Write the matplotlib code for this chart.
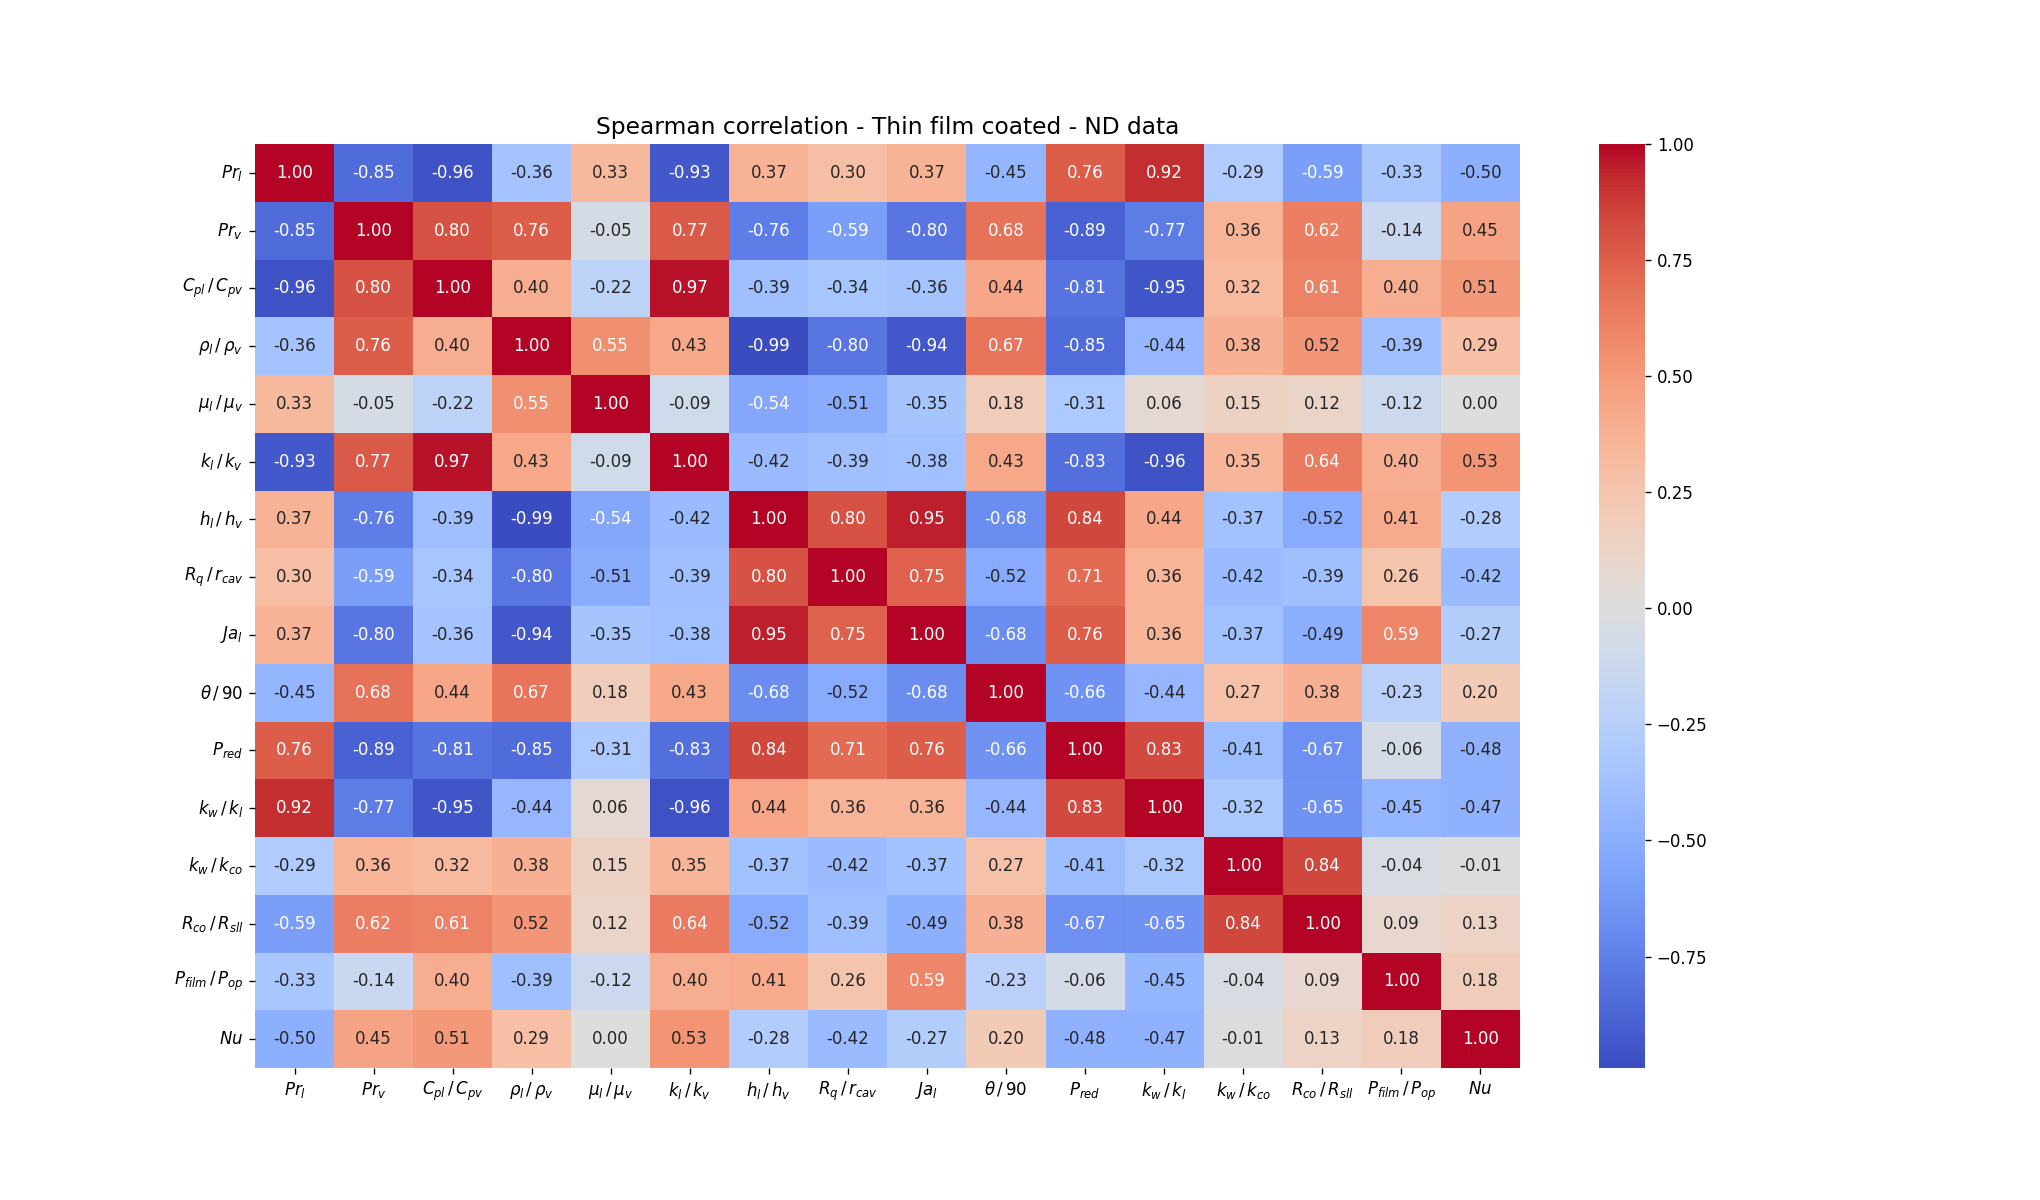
import numpy as np
import pandas as pd
import matplotlib
matplotlib.use("Agg")
import matplotlib.pyplot as plt
import seaborn as sns

# ── Labels ────────────────────────────────────────────────────────────
labels = [r"$Pr_l$", r"$Pr_v$", r"$C_{pl}\,/\,C_{pv}$", r"$\rho_l\,/\,\rho_v$",
          r"$\mu_l\,/\,\mu_v$", r"$k_l\,/\,k_v$", r"$h_l\,/\,h_v$",
          r"$R_q\,/\,r_{cav}$", r"$Ja_l$", r"$\theta\,/\,90$", r"$P_{red}$",
          r"$k_w\,/\,k_l$", r"$k_w\,/\,k_{co}$", r"$R_{co}\,/\,R_{sll}$",
          r"$P_{film}\,/\,P_{op}$", r"$Nu$"]

# ── Spearman coefficients (read row by row) ───────────────────────────
r_prl   = [1.00, -0.85, -0.96, -0.36, 0.33, -0.93, 0.37, 0.30, 0.37, -0.45, 0.76, 0.92, -0.29, -0.59, -0.33, -0.50]
r_prv   = [-0.85, 1.00, 0.80, 0.76, -0.05, 0.77, -0.76, -0.59, -0.80, 0.68, -0.89, -0.77, 0.36, 0.62, -0.14, 0.45]
r_cp    = [-0.96, 0.80, 1.00, 0.40, -0.22, 0.97, -0.39, -0.34, -0.36, 0.44, -0.81, -0.95, 0.32, 0.61, 0.40, 0.51]
r_rho   = [-0.36, 0.76, 0.40, 1.00, 0.55, 0.43, -0.99, -0.80, -0.94, 0.67, -0.85, -0.44, 0.38, 0.52, -0.39, 0.29]
r_mu    = [0.33, -0.05, -0.22, 0.55, 1.00, -0.09, -0.54, -0.51, -0.35, 0.18, -0.31, 0.06, 0.15, 0.12, -0.12, 0.00]
r_k     = [-0.93, 0.77, 0.97, 0.43, -0.09, 1.00, -0.42, -0.39, -0.38, 0.43, -0.83, -0.96, 0.35, 0.64, 0.40, 0.53]
r_h     = [0.37, -0.76, -0.39, -0.99, -0.54, -0.42, 1.00, 0.80, 0.95, -0.68, 0.84, 0.44, -0.37, -0.52, 0.41, -0.28]
r_rq    = [0.30, -0.59, -0.34, -0.80, -0.51, -0.39, 0.80, 1.00, 0.75, -0.52, 0.71, 0.36, -0.42, -0.39, 0.26, -0.42]
r_ja    = [0.37, -0.80, -0.36, -0.94, -0.35, -0.38, 0.95, 0.75, 1.00, -0.68, 0.76, 0.36, -0.37, -0.49, 0.59, -0.27]
r_theta = [-0.45, 0.68, 0.44, 0.67, 0.18, 0.43, -0.68, -0.52, -0.68, 1.00, -0.66, -0.44, 0.27, 0.38, -0.23, 0.20]
r_pred  = [0.76, -0.89, -0.81, -0.85, -0.31, -0.83, 0.84, 0.71, 0.76, -0.66, 1.00, 0.83, -0.41, -0.67, -0.06, -0.48]
r_kwkl  = [0.92, -0.77, -0.95, -0.44, 0.06, -0.96, 0.44, 0.36, 0.36, -0.44, 0.83, 1.00, -0.32, -0.65, -0.45, -0.47]
r_kwkco = [-0.29, 0.36, 0.32, 0.38, 0.15, 0.35, -0.37, -0.42, -0.37, 0.27, -0.41, -0.32, 1.00, 0.84, -0.04, -0.01]
r_rco   = [-0.59, 0.62, 0.61, 0.52, 0.12, 0.64, -0.52, -0.39, -0.49, 0.38, -0.67, -0.65, 0.84, 1.00, 0.09, 0.13]
r_pfilm = [-0.33, -0.14, 0.40, -0.39, -0.12, 0.40, 0.41, 0.26, 0.59, -0.23, -0.06, -0.45, -0.04, 0.09, 1.00, 0.18]
r_nu    = [-0.50, 0.45, 0.51, 0.29, 0.00, 0.53, -0.28, -0.42, -0.27, 0.20, -0.48, -0.47, -0.01, 0.13, 0.18, 1.00]

rows = [r_prl, r_prv, r_cp, r_rho, r_mu, r_k, r_h, r_rq, r_ja, r_theta,
        r_pred, r_kwkl, r_kwkco, r_rco, r_pfilm, r_nu]
corr = pd.DataFrame(np.array(rows), index=labels, columns=labels)

# ── Plot ──────────────────────────────────────────────────────────────
fig = plt.figure(figsize=(17, 10), dpi=120)
ax = sns.heatmap(corr, annot=True, fmt=".2f", cmap="coolwarm")
ax.set_xticklabels(ax.get_xticklabels(), rotation=0)
ax.set_yticklabels(ax.get_yticklabels(), rotation=0)
plt.title("Spearman correlation - Thin film coated - ND data", fontsize=14)
plt.savefig("out.png", dpi=120)
